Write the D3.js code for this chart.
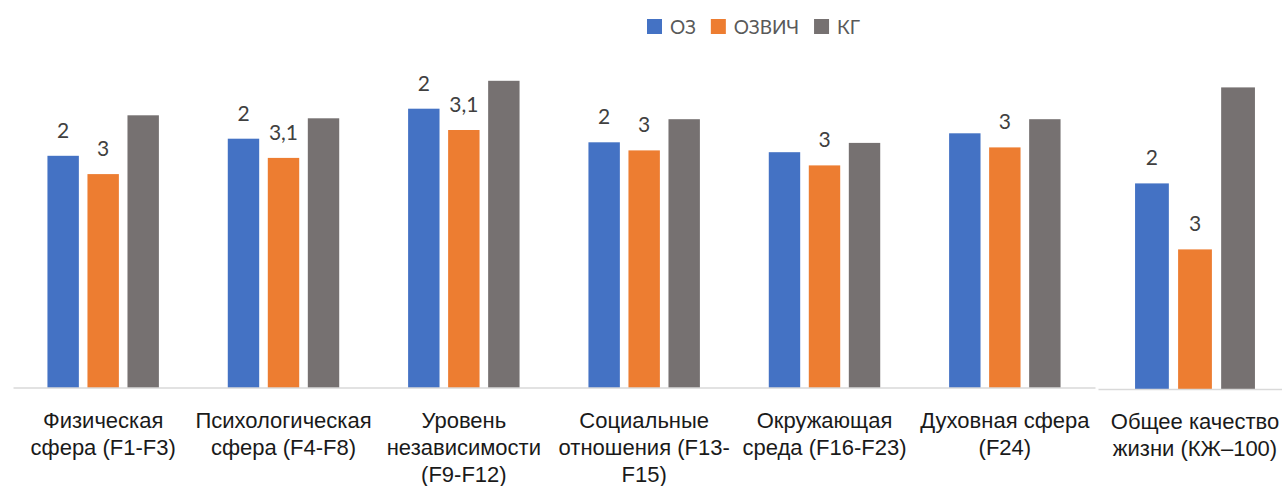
<!DOCTYPE html>
<html lang="ru">
<head>
<meta charset="utf-8">
<script src="https://cdn.jsdelivr.net/npm/d3@7"></script>
<style>
  html, body { margin: 0; padding: 0; background: #fff; }
  svg { display: block; font-family: Lato, "Liberation Sans", sans-serif; }
</style>
</head>
<body>
<svg id="chart" width="1282" height="486"></svg>
<script>
// Domains of the WHOQOL questionnaire (the last one is shown as a separate block)
const categories = [
  "Физическая\nсфера (F1-F3)",
  "Психологическая\nсфера (F4-F8)",
  "Уровень\nнезависимости\n(F9-F12)",
  "Социальные\nотношения (F13-\nF15)",
  "Окружающая\nсреда (F16-F23)",
  "Духовная сфера\n(F24)"
];
const totalCategory = ["Общее качество\nжизни (КЖ–100)"];

const series = ["ОЗ", "ОЗВИЧ", "КГ"];
const colors = ["#4472C4", "#ED7D31", "#767171"];

// Scores per group, one value per domain
const valuesOZ     = [77.4, 83.1, 93.1, 81.9, 78.6, 84.9];
const valuesOZVICh = [71.3, 76.7, 86.0, 79.2, 74.2, 80.2];
const valuesKG     = [90.9, 89.9, 102.4, 89.6, 81.7, 89.6];

// Overall quality of life block
const totalOZ     = [68.7];
const totalOZVICh = [46.7];
const totalKG     = [100.7];

// Significance marks above the bars ("" = none)
const marksOZ     = ["2", "2", "2", "2", "", ""];
const marksOZVICh = ["3", "3,1", "3,1", "3", "3", "3"];
const totalMarksOZ     = ["2"];
const totalMarksOZVICh = ["3"];

const svg = d3.select("#chart");

function drawPanel(cats, vals, marks, xRange, baseY) {
  const g = svg.append("g");

  const y = d3.scaleLinear().domain([0, 110]).range([baseY, baseY - 330]);

  const x0 = d3.scaleBand()
    .domain(cats)
    .range(xRange)
    .paddingInner(0.382)
    .paddingOuter(0.191);

  const x1 = d3.scaleBand()
    .domain(series)
    .range([0, x0.bandwidth()])
    .paddingInner(0.215)
    .paddingOuter(0);

  const rows = cats.map((c, i) => ({
    cat: c,
    items: series.map((s, k) => ({ s, k, v: vals[k][i], m: marks[k] ? marks[k][i] : "" }))
  }));

  const groups = g.selectAll("g.grp").data(rows).join("g")
    .attr("class", "grp")
    .attr("transform", d => `translate(${x0(d.cat)},0)`);

  groups.selectAll("rect").data(d => d.items).join("rect")
    .attr("x", d => x1(d.s))
    .attr("width", x1.bandwidth())
    .attr("y", d => y(d.v))
    .attr("height", d => y(0) - y(d.v))
    .attr("fill", d => colors[d.k]);

  groups.selectAll("text.mark").data(d => d.items.filter(it => it.m)).join("text")
    .attr("class", "mark")
    .attr("x", d => x1(d.s) + x1.bandwidth() / 2)
    .attr("y", d => y(d.v) - 18)
    .attr("text-anchor", "middle")
    .attr("font-size", 21)
    .attr("fill", "#404040")
    .text(d => d.m);

  // Category axis
  const axis = d3.axisBottom(x0).tickSize(0).tickSizeOuter(0).tickFormat("");
  const ax = g.append("g")
    .attr("transform", `translate(0,${baseY - 0.5})`)
    .call(axis);
  ax.select(".domain").attr("stroke", "#d9d9d9").attr("stroke-width", 1.5);

  ax.selectAll(".tick text").remove();
  ax.selectAll(".tick").append("text")
    .attr("text-anchor", "middle")
    .attr("font-size", 22)
    .attr("fill", "#1a1a1a")
    .each(function(d) {
      const lines = d.split("\n");
      d3.select(this).selectAll("tspan").data(lines).join("tspan")
        .attr("x", 0)
        .attr("y", (l, i) => 40 + i * 27)
        .text(l => l);
    });
}

drawPanel(categories, [valuesOZ, valuesOZVICh, valuesKG],
          [marksOZ, marksOZVICh, null], [13, 1095], 388);
drawPanel(totalCategory, [totalOZ, totalOZVICh, totalKG],
          [totalMarksOZ, totalMarksOZVICh, null], [1098, 1292], 389.5);

// Legend
const legend = svg.append("g").attr("transform", "translate(647,0)");
let lx = 0;
series.forEach((s, k) => {
  const item = legend.append("g").attr("transform", `translate(${lx},0)`);
  item.append("rect")
    .attr("x", 0).attr("y", 19)
    .attr("width", 15).attr("height", 15)
    .attr("fill", colors[k]);
  const t = item.append("text")
    .attr("x", 23).attr("y", 33.5)
    .attr("font-size", 19)
    .attr("fill", "#595959")
    .text(s);
  lx += 23 + t.node().getComputedTextLength() + 15;
});
</script>
</body>
</html>
